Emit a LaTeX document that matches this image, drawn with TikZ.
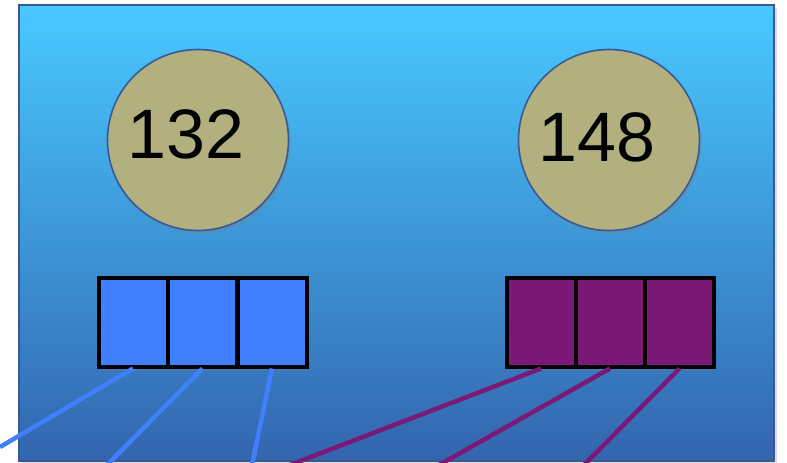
\documentclass[tikz,border=0pt]{standalone}
\usepackage{xcolor}
\usepackage{fontspec}
\setmainfont{Liberation Sans}
\usepackage{tikz}
\usetikzlibrary{shadows, positioning}
\definecolor{bgtop}{RGB}{72,201,255}
\definecolor{bgbot}{RGB}{51,101,174}
\definecolor{bgedge}{RGB}{58,88,150}
\definecolor{olive}{RGB}{179,176,128}
\definecolor{cellblue}{RGB}{64,128,255}
\definecolor{cellpurple}{RGB}{123,25,118}
\tikzset{
  frame/.style={draw=bgedge, line width=1.5pt, top color=bgtop, bottom color=bgbot,
    drop shadow={opacity=0.25, shadow xshift=3pt, shadow yshift=-3pt}},
  idnode/.style={circle, draw=bgedge, fill=olive, minimum size=181pt, line width=1.6pt,
    inner sep=0pt, font=\fontsize{70}{80}\selectfont,
    drop shadow={opacity=0.35, shadow xshift=2pt, shadow yshift=-3pt}},
  bluecell/.style={rectangle, draw=black, fill=cellblue, minimum width=69pt,
    minimum height=89pt, line width=4pt,
    drop shadow={opacity=0.35, shadow xshift=2pt, shadow yshift=-3pt}},
  purplecell/.style={bluecell, fill=cellpurple},
  bluewire/.style={cellblue, line width=4.5pt},
  purplewire/.style={cellpurple, line width=4.5pt}
}
\begin{document}
\begin{tikzpicture}[x=1pt, y=-1pt]
  \useasboundingbox (0,0) rectangle (787,463);
  \clip (0,0) rectangle (787,463);
  \path[frame] (19,5) rectangle (774,461);

  \node[idnode, label={[xshift=-12pt, yshift=6pt, font=\fontsize{70}{80}\selectfont]center:132}] (id1) at (198,140) {};
  \node[idnode, label={[xshift=-12pt, yshift=3pt, font=\fontsize{70}{80}\selectfont]center:148}] (id2) at (609,140) {};

  \node[bluecell] (b1) at (133,322) {};
  \node[bluecell] (b2) at (202.5,322) {};
  \node[bluecell] (b3) at (272,322) {};
  \node[purplecell] (p1) at (541,322) {};
  \node[purplecell] (p2) at (610,322) {};
  \node[purplecell] (p3) at (679.5,322) {};

  % wires leave through the bottom edge
  \coordinate (bo1) at (0,447);
  \coordinate (bo2) at (107,465);
  \coordinate (bo3) at (252,465);
  \coordinate (po1) at (290,465);
  \coordinate (po2) at (439,465);
  \coordinate (po3) at (584,465);

  \draw[bluewire] (b1.south) -- (bo1);
  \draw[bluewire] (b2.south) -- (bo2);
  \draw[bluewire] (b3.south) -- (bo3);
  \draw[purplewire] (p1.south) -- (po1);
  \draw[purplewire] (p2.south) -- (po2);
  \draw[purplewire] (p3.south) -- (po3);
\end{tikzpicture}
\end{document}
